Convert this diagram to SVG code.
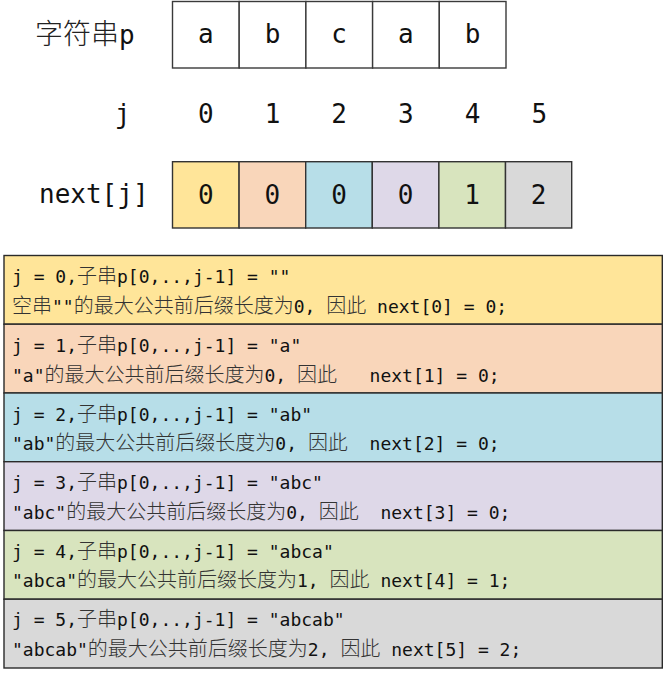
<svg xmlns="http://www.w3.org/2000/svg" width="664" height="674" viewBox="0 0 664 674">
<style>
.bg{fill:#ffffff}
.cell{fill:#ffffff;stroke:#3a3a3a;stroke-width:1.4}
.ncell{stroke:#333333;stroke-width:1.4}
.row{stroke:#2a2a2a;stroke-width:1.4}
.big{font-family:"DejaVu Sans Mono","Liberation Mono",monospace;font-size:26px;fill:#111}
.bigcjk{font-family:"Noto Sans CJK SC","Noto Sans CJK JP",sans-serif;font-size:28px;font-weight:300;fill:#222}
.mono{font-family:"DejaVu Sans Mono","Liberation Mono","Noto Sans CJK SC",monospace;font-size:18px;fill:#111}
.cjk{font-family:"Noto Sans CJK SC","Noto Sans CJK JP",sans-serif;font-size:20px;font-weight:300;fill:#333}
.mid{text-anchor:middle}
</style>
<rect class="bg" x="0" y="0" width="664" height="674"/>

<g id="string-p">
  <text x="35" y="44"><tspan class="bigcjk">字符串</tspan><tspan class="big">p</tspan></text>
  <g id="p0"><rect class="cell" x="172.5" y="1.5" width="66.7" height="66.5"/><text class="big mid" x="205.8" y="43">a</text></g>
  <g id="p1"><rect class="cell" x="239.2" y="1.5" width="66.7" height="66.5"/><text class="big mid" x="272.5" y="43">b</text></g>
  <g id="p2"><rect class="cell" x="305.9" y="1.5" width="66.7" height="66.5"/><text class="big mid" x="339.2" y="43">c</text></g>
  <g id="p3"><rect class="cell" x="372.6" y="1.5" width="66.7" height="66.5"/><text class="big mid" x="405.9" y="43">a</text></g>
  <g id="p4"><rect class="cell" x="439.3" y="1.5" width="66.7" height="66.5"/><text class="big mid" x="472.6" y="43">b</text></g>
</g>

<g id="j-index">
  <text class="big mid" x="122.5" y="123">j</text>
  <text class="big mid" x="205.8" y="123">0</text>
  <text class="big mid" x="272.5" y="123">1</text>
  <text class="big mid" x="339.2" y="123">2</text>
  <text class="big mid" x="405.9" y="123">3</text>
  <text class="big mid" x="472.6" y="123">4</text>
  <text class="big mid" x="539.3" y="123">5</text>
</g>

<g id="next-array">
  <text class="big" x="39" y="203">next[j]</text>
  <g id="n0"><rect class="ncell" fill="#FFE599" x="172.5" y="161.7" width="66.6" height="66.3"/><text class="big mid" x="205.8" y="203.5">0</text></g>
  <g id="n1"><rect class="ncell" fill="#F9D6BA" x="239.1" y="161.7" width="66.6" height="66.3"/><text class="big mid" x="272.4" y="203.5">0</text></g>
  <g id="n2"><rect class="ncell" fill="#B7DEE8" x="305.7" y="161.7" width="66.6" height="66.3"/><text class="big mid" x="339" y="203.5">0</text></g>
  <g id="n3"><rect class="ncell" fill="#DED8E8" x="372.3" y="161.7" width="66.6" height="66.3"/><text class="big mid" x="405.6" y="203.5">0</text></g>
  <g id="n4"><rect class="ncell" fill="#D8E4BE" x="438.9" y="161.7" width="66.6" height="66.3"/><text class="big mid" x="472.2" y="203.5">1</text></g>
  <g id="n5"><rect class="ncell" fill="#D9D9D9" x="505.5" y="161.7" width="66.2" height="66.3"/><text class="big mid" x="538.6" y="203.5">2</text></g>
</g>

<g id="explanations">
  <g id="row0">
    <rect class="row" fill="#FFE599" x="4" y="255.5" width="658.3" height="68.7"/>
    <text class="mono" x="12" y="283" xml:space="preserve">j = 0,<tspan class="cjk">子串</tspan>p[0,..,j-1] = ""</text>
    <text class="mono" x="12" y="313" xml:space="preserve"><tspan class="cjk">空串</tspan>""<tspan class="cjk">的最大公共前后缀长度为</tspan>0, <tspan class="cjk">因此</tspan> next[0] = 0;</text>
  </g>
  <g id="row1">
    <rect class="row" fill="#F9D6BA" x="4" y="324.2" width="658.3" height="68.8"/>
    <text class="mono" x="12" y="351.7" xml:space="preserve">j = 1,<tspan class="cjk">子串</tspan>p[0,..,j-1] = "a"</text>
    <text class="mono" x="12" y="381.5" xml:space="preserve">"a"<tspan class="cjk">的最大公共前后缀长度为</tspan>0, <tspan class="cjk">因此</tspan>   next[1] = 0;</text>
  </g>
  <g id="row2">
    <rect class="row" fill="#B7DEE8" x="4" y="393" width="658.3" height="68.7"/>
    <text class="mono" x="12" y="420.5" xml:space="preserve">j = 2,<tspan class="cjk">子串</tspan>p[0,..,j-1] = "ab"</text>
    <text class="mono" x="12" y="450.3" xml:space="preserve">"ab"<tspan class="cjk">的最大公共前后缀长度为</tspan>0, <tspan class="cjk">因此</tspan>  next[2] = 0;</text>
  </g>
  <g id="row3">
    <rect class="row" fill="#DED8E8" x="4" y="461.7" width="658.3" height="68.8"/>
    <text class="mono" x="12" y="489.2" xml:space="preserve">j = 3,<tspan class="cjk">子串</tspan>p[0,..,j-1] = "abc"</text>
    <text class="mono" x="12" y="519" xml:space="preserve">"abc"<tspan class="cjk">的最大公共前后缀长度为</tspan>0, <tspan class="cjk">因此</tspan>  next[3] = 0;</text>
  </g>
  <g id="row4">
    <rect class="row" fill="#D8E4BE" x="4" y="530.5" width="658.3" height="68.7"/>
    <text class="mono" x="12" y="557.5" xml:space="preserve">j = 4,<tspan class="cjk">子串</tspan>p[0,..,j-1] = "abca"</text>
    <text class="mono" x="12" y="587" xml:space="preserve">"abca"<tspan class="cjk">的最大公共前后缀长度为</tspan>1, <tspan class="cjk">因此</tspan> next[4] = 1;</text>
  </g>
  <g id="row5">
    <rect class="row" fill="#D9D9D9" x="4" y="599.2" width="658.3" height="68.8"/>
    <text class="mono" x="12" y="626.2" xml:space="preserve">j = 5,<tspan class="cjk">子串</tspan>p[0,..,j-1] = "abcab"</text>
    <text class="mono" x="12" y="655.7" xml:space="preserve">"abcab"<tspan class="cjk">的最大公共前后缀长度为</tspan>2, <tspan class="cjk">因此</tspan> next[5] = 2;</text>
  </g>
</g>
</svg>
